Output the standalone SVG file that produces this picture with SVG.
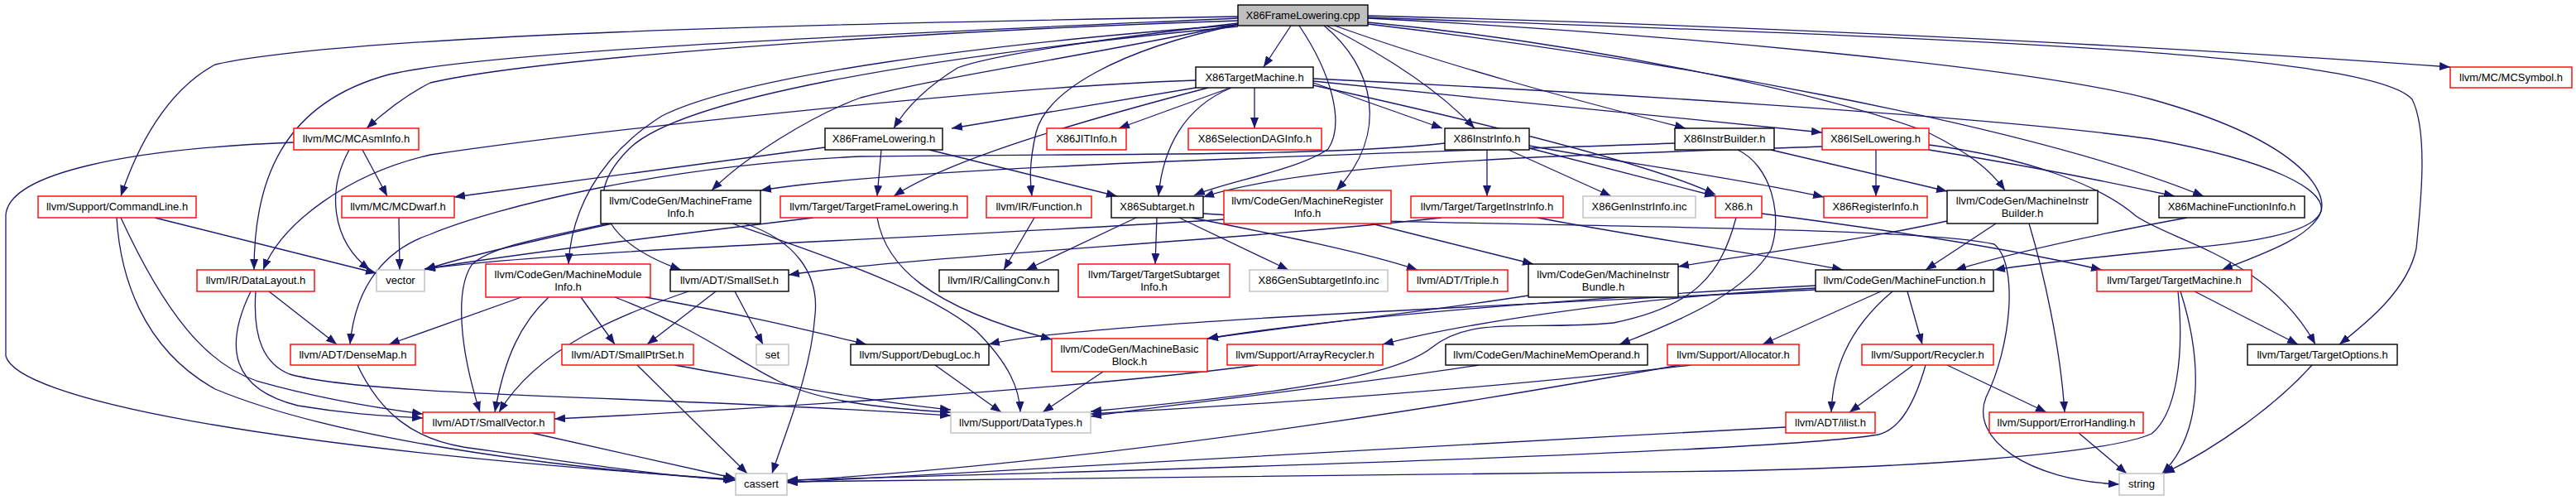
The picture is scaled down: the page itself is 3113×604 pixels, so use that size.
<svg xmlns="http://www.w3.org/2000/svg" width="3113" height="604" viewBox="0 0 3113 604">
<style>
.e{fill:none;stroke:#191970;stroke-width:1.3;marker-end:url(#a)}
rect{fill:#fff;stroke-width:1.4}
.r rect{stroke:#ff0000}
.k rect{stroke:#000}
.g rect{stroke:#bfbfbf}
text{font-family:"Liberation Sans",Arial,sans-serif;font-size:13px;text-anchor:middle;fill:#000}
</style>
<defs>
<marker id="a" viewBox="0 0 13 10" refX="13" refY="5" markerWidth="13" markerHeight="10" orient="auto" markerUnits="userSpaceOnUse">
<path d="M0,0L13,5L0,10z" fill="#191970"/>
</marker>
</defs>
<rect x="0" y="0" width="3113" height="604" style="fill:#fff;stroke:none"/>
<g id="edges">
<path class="e" d="M1560,31L1527,81"/>
<path class="e" d="M1653,19C2100,30 2600,55 2961,81"/>
<path class="e" d="M1496,25C1100,38 650,70 520,100C490,115 465,135 443,155"/>
<path class="e" d="M1496,20C1000,28 420,42 260,78C200,110 165,180 146,237"/>
<path class="e" d="M1496,22C1100,40 600,60 470,90C340,125 307,220 307,326"/>
<path class="e" d="M1496,28C1350,45 1200,65 1157,82C1120,105 1095,130 1080,155"/>
<path class="e" d="M1496,30C1200,52 900,90 800,140C720,190 690,260 687,319"/>
<path class="e" d="M1496,32C1100,70 820,120 760,180C690,250 750,300 823,326"/>
<path class="e" d="M1496,29C1300,70 1150,90 1040,118C980,140 900,190 860,230"/>
<path class="e" d="M1496,30C1350,60 1265,110 1252,160C1243,200 1245,220 1247,237"/>
<path class="e" d="M1570,31C1610,90 1625,150 1605,180C1570,205 1480,220 1443,236"/>
<path class="e" d="M1600,31C1660,80 1680,160 1615,230"/>
<path class="e" d="M1603,31C1680,70 1740,110 1782,155"/>
<path class="e" d="M1613,31C1750,80 1900,120 2037,155"/>
<path class="e" d="M1653,27C1900,50 2200,110 2330,160C2380,185 2405,205 2423,230"/>
<path class="e" d="M1653,29C2000,70 2450,150 2663,237"/>
<path class="e" d="M1653,22C2000,40 2450,80 2600,120C2780,170 2812,230 2805,255C2795,285 2700,295 2620,302C2540,310 2460,318 2410,326"/>
<path class="e" d="M1653,21C2300,45 2860,60 2915,120C2935,160 2925,250 2920,300C2910,350 2860,390 2827,416"/>
<path class="e" d="M1445,106L1150,155"/>
<path class="e" d="M1460,106C1330,140 1150,190 1080,237"/>
<path class="e" d="M1487,106L1352,155"/>
<path class="e" d="M1516,106L1516,155"/>
<path class="e" d="M1488,106C1430,130 1405,180 1400,237"/>
<path class="e" d="M1587,100L1743,155"/>
<path class="e" d="M1587,103C1800,150 2000,200 2073,235"/>
<path class="e" d="M1587,98C1800,120 2050,145 2202,160"/>
<path class="e" d="M1587,95C1900,110 2400,140 2600,168C2750,195 2810,230 2805,255C2795,285 2740,305 2685,326"/>
<path class="e" d="M1445,97C1200,105 700,160 520,187C420,210 340,270 318,326"/>
<path class="e" d="M997,178L549,238"/>
<path class="e" d="M1065,181L1060,237"/>
<path class="e" d="M1123,181L1350,237"/>
<path class="e" d="M438,181L468,237"/>
<path class="e" d="M422,181C395,230 400,290 447,326"/>
<path class="e" d="M355,172C150,180 10,210 7,260L7,430C20,480 300,540 887,579"/>
<path class="e" d="M187,263L455,330"/>
<path class="e" d="M146,263C200,380 250,440 310,460C380,480 450,492 511,500"/>
<path class="e" d="M141,263C145,330 170,420 260,470C380,520 600,560 889,580"/>
<path class="e" d="M325,352L407,416"/>
<path class="e" d="M303,352C270,420 280,470 360,490C420,500 460,502 511,505"/>
<path class="e" d="M309,352C305,410 320,440 350,452C450,480 800,478 1149,502"/>
<path class="e" d="M482,263L483,326"/>
<path class="e" d="M740,270C650,290 560,310 513,326"/>
<path class="e" d="M735,270C640,290 590,300 570,320C550,350 555,420 580,498"/>
<path class="e" d="M900,270C960,290 990,330 985,380C980,450 950,520 933,572"/>
<path class="e" d="M885,270C1000,310 1120,350 1180,400C1220,440 1232,470 1233,498"/>
<path class="e" d="M1060,263C1070,320 1120,370 1271,410"/>
<path class="e" d="M983,263C800,285 600,310 513,325"/>
<path class="e" d="M1250,263L1213,326"/>
<path class="e" d="M1373,263L1240,326"/>
<path class="e" d="M1398,263L1396,319"/>
<path class="e" d="M1425,263L1557,326"/>
<path class="e" d="M1440,263C1550,285 1650,305 1713,326"/>
<path class="e" d="M1454,258C1700,275 2300,270 2410,295C2440,320 2430,420 2400,480C2380,530 2450,580 2561,585"/>
<path class="e" d="M1797,181L1797,237"/>
<path class="e" d="M1823,181L1947,237"/>
<path class="e" d="M1848,176C1950,195 2100,215 2204,238"/>
<path class="e" d="M1848,179L2073,237"/>
<path class="e" d="M1746,173C1600,190 1300,185 1040,189C800,200 600,250 520,283C470,300 430,340 423,416"/>
<path class="e" d="M2024,173C1700,185 1100,200 919,230"/>
<path class="e" d="M2140,181L2353,231"/>
<path class="e" d="M2100,181C2140,200 2155,260 2140,302C2110,350 2050,380 1957,416"/>
<path class="e" d="M2267,181L2267,237"/>
<path class="e" d="M2202,177C2000,185 1600,190 1454,238"/>
<path class="e" d="M2331,181C2450,200 2550,220 2628,237"/>
<path class="e" d="M2331,175C2450,190 2540,225 2580,260C2620,290 2740,310 2798,416"/>
<path class="e" d="M1742,263C1500,290 1100,310 953,332"/>
<path class="e" d="M1858,263C2000,290 2150,310 2227,326"/>
<path class="e" d="M1657,270L1853,319"/>
<path class="e" d="M1479,265C1100,290 700,300 513,325"/>
<path class="e" d="M2353,267C2250,290 2100,310 2028,322"/>
<path class="e" d="M2412,270L2327,326"/>
<path class="e" d="M2452,270C2470,330 2490,420 2495,498"/>
<path class="e" d="M2643,263C2550,280 2450,300 2363,326"/>
<path class="e" d="M1847,357C1700,380 1550,395 1459,409"/>
<path class="e" d="M2273,352L2130,416"/>
<path class="e" d="M2305,352L2323,416"/>
<path class="e" d="M2287,352C2230,400 2215,450 2213,498"/>
<path class="e" d="M2194,348C1950,360 1750,395 1671,416"/>
<path class="e" d="M2194,350C1800,370 1300,390 1195,416"/>
<path class="e" d="M2194,345C1900,360 1600,385 1459,409"/>
<path class="e" d="M2652,352L2777,416"/>
<path class="e" d="M2632,352C2640,430 2630,500 2600,524C2540,550 2300,565 2080,569C1600,575 1200,578 951,582"/>
<path class="e" d="M2635,352C2660,430 2665,520 2613,572"/>
<path class="e" d="M2794,441C2750,490 2680,540 2615,572"/>
<path class="e" d="M2512,523L2570,572"/>
<path class="e" d="M2312,441L2235,498"/>
<path class="e" d="M2353,441L2473,498"/>
<path class="e" d="M2327,441C2310,500 2290,520 2270,525C2150,545 1500,565 951,580"/>
<path class="e" d="M2158,516C1700,540 1200,570 951,583"/>
<path class="e" d="M2043,441C1800,470 1500,490 1318,500"/>
<path class="e" d="M2030,441C1700,500 1300,560 951,581"/>
<path class="e" d="M1520,441C1300,470 900,495 670,506"/>
<path class="e" d="M1787,441C1600,470 1400,490 1318,503"/>
<path class="e" d="M1333,449L1260,498"/>
<path class="e" d="M1130,441L1210,498"/>
<path class="e" d="M2129,258C2300,280 2450,305 2540,326"/>
<path class="e" d="M2098,263C2080,330 2050,370 1950,390C1850,400 1780,380 1730,420C1680,460 1500,480 1318,497"/>
<path class="e" d="M630,359L470,416"/>
<path class="e" d="M663,359C630,390 610,430 598,498"/>
<path class="e" d="M702,359L743,416"/>
<path class="e" d="M743,359C850,400 880,430 940,460C1000,490 1100,495 1149,498"/>
<path class="e" d="M780,359C900,380 980,400 1047,416"/>
<path class="e" d="M865,352L782,416"/>
<path class="e" d="M888,352L922,416"/>
<path class="e" d="M832,352C750,380 650,420 603,498"/>
<path class="e" d="M770,441L903,572"/>
<path class="e" d="M815,441C950,465 1050,485 1149,495"/>
<path class="e" d="M432,441C460,500 500,530 560,540C700,560 800,575 889,580"/>
<path class="e" d="M643,523L889,578"/>
</g>
<g id="n0" class="k"><rect x="1496" y="6" width="157" height="25" style="fill:#bfbfbf"/><text x="1574.5" y="23">X86FrameLowering.cpp</text></g>
<g id="n1" class="k"><rect x="1445" y="81" width="142" height="25"/><text x="1516" y="98">X86TargetMachine.h</text></g>
<g id="n2" class="r"><rect x="2961" y="81" width="147" height="25"/><text x="3034.5" y="98">llvm/MC/MCSymbol.h</text></g>
<g id="n3" class="r"><rect x="355" y="155" width="151" height="26"/><text x="430.5" y="172">llvm/MC/MCAsmInfo.h</text></g>
<g id="n4" class="k"><rect x="997" y="155" width="142" height="26"/><text x="1068" y="172">X86FrameLowering.h</text></g>
<g id="n5" class="r"><rect x="1265" y="155" width="96" height="26"/><text x="1313" y="172">X86JITInfo.h</text></g>
<g id="n6" class="r"><rect x="1436" y="155" width="161" height="26"/><text x="1516.5" y="172">X86SelectionDAGInfo.h</text></g>
<g id="n7" class="k"><rect x="1746" y="155" width="102" height="26"/><text x="1797" y="172">X86InstrInfo.h</text></g>
<g id="n8" class="k"><rect x="2024" y="155" width="120" height="26"/><text x="2084" y="172">X86InstrBuilder.h</text></g>
<g id="n9" class="r"><rect x="2202" y="155" width="129" height="26"/><text x="2266.5" y="172">X86ISelLowering.h</text></g>
<g id="n10" class="r"><rect x="46" y="237" width="191" height="26"/><text x="141.5" y="254">llvm/Support/CommandLine.h</text></g>
<g id="n11" class="r"><rect x="413" y="237" width="136" height="26"/><text x="481" y="254">llvm/MC/MCDwarf.h</text></g>
<g id="n12" class="k"><rect x="726" y="230" width="193" height="40"/><text x="822.5" y="247">llvm/CodeGen/MachineFrame</text><text x="822.5" y="262">Info.h</text></g>
<g id="n13" class="r"><rect x="943" y="237" width="226" height="26"/><text x="1056" y="254">llvm/Target/TargetFrameLowering.h</text></g>
<g id="n14" class="r"><rect x="1192" y="237" width="127" height="26"/><text x="1255.5" y="254">llvm/IR/Function.h</text></g>
<g id="n15" class="k"><rect x="1343" y="237" width="111" height="26"/><text x="1398.5" y="254">X86Subtarget.h</text></g>
<g id="n16" class="r"><rect x="1479" y="230" width="202" height="40"/><text x="1580" y="247">llvm/CodeGen/MachineRegister</text><text x="1580" y="262">Info.h</text></g>
<g id="n17" class="r"><rect x="1705" y="237" width="184" height="26"/><text x="1797" y="254">llvm/Target/TargetInstrInfo.h</text></g>
<g id="n18" class="g"><rect x="1913" y="237" width="136" height="26"/><text x="1981" y="254">X86GenInstrInfo.inc</text></g>
<g id="n19" class="r"><rect x="2073" y="237" width="56" height="26"/><text x="2101" y="254">X86.h</text></g>
<g id="n20" class="r"><rect x="2204" y="237" width="125" height="26"/><text x="2266.5" y="254">X86RegisterInfo.h</text></g>
<g id="n21" class="k"><rect x="2353" y="230" width="182" height="40"/><text x="2444" y="247">llvm/CodeGen/MachineInstr</text><text x="2444" y="262">Builder.h</text></g>
<g id="n22" class="k"><rect x="2609" y="237" width="176" height="26"/><text x="2697" y="254">X86MachineFunctionInfo.h</text></g>
<g id="n23" class="r"><rect x="238" y="326" width="142" height="26"/><text x="309" y="343">llvm/IR/DataLayout.h</text></g>
<g id="n24" class="g"><rect x="455" y="326" width="58" height="26"/><text x="484" y="343">vector</text></g>
<g id="n25" class="r"><rect x="587" y="319" width="199" height="40"/><text x="686.5" y="336">llvm/CodeGen/MachineModule</text><text x="686.5" y="351">Info.h</text></g>
<g id="n26" class="k"><rect x="810" y="326" width="143" height="26"/><text x="881.5" y="343">llvm/ADT/SmallSet.h</text></g>
<g id="n27" class="k"><rect x="1135" y="326" width="144" height="26"/><text x="1207" y="343">llvm/IR/CallingConv.h</text></g>
<g id="n28" class="r"><rect x="1303" y="319" width="183" height="40"/><text x="1394.5" y="336">llvm/Target/TargetSubtarget</text><text x="1394.5" y="351">Info.h</text></g>
<g id="n29" class="g"><rect x="1510" y="326" width="167" height="26"/><text x="1593.5" y="343">X86GenSubtargetInfo.inc</text></g>
<g id="n30" class="r"><rect x="1701" y="326" width="121" height="26"/><text x="1761.5" y="343">llvm/ADT/Triple.h</text></g>
<g id="n31" class="k"><rect x="1847" y="319" width="181" height="40"/><text x="1937.5" y="336">llvm/CodeGen/MachineInstr</text><text x="1937.5" y="351">Bundle.h</text></g>
<g id="n32" class="k"><rect x="2194" y="326" width="215" height="26"/><text x="2301.5" y="343">llvm/CodeGen/MachineFunction.h</text></g>
<g id="n33" class="r"><rect x="2534" y="326" width="187" height="26"/><text x="2627.5" y="343">llvm/Target/TargetMachine.h</text></g>
<g id="n34" class="r"><rect x="351" y="416" width="151" height="25"/><text x="426.5" y="433">llvm/ADT/DenseMap.h</text></g>
<g id="n35" class="r"><rect x="679" y="416" width="159" height="25"/><text x="758.5" y="433">llvm/ADT/SmallPtrSet.h</text></g>
<g id="n36" class="g"><rect x="914" y="416" width="39" height="25"/><text x="933.5" y="433">set</text></g>
<g id="n37" class="k"><rect x="1028" y="416" width="167" height="25"/><text x="1111.5" y="433">llvm/Support/DebugLoc.h</text></g>
<g id="n38" class="r"><rect x="1271" y="409" width="188" height="40"/><text x="1365" y="426">llvm/CodeGen/MachineBasic</text><text x="1365" y="441">Block.h</text></g>
<g id="n39" class="r"><rect x="1483" y="416" width="188" height="25"/><text x="1577" y="433">llvm/Support/ArrayRecycler.h</text></g>
<g id="n40" class="k"><rect x="1747" y="416" width="244" height="25"/><text x="1869" y="433">llvm/CodeGen/MachineMemOperand.h</text></g>
<g id="n41" class="r"><rect x="2015" y="416" width="159" height="25"/><text x="2094.5" y="433">llvm/Support/Allocator.h</text></g>
<g id="n42" class="r"><rect x="2250" y="416" width="159" height="25"/><text x="2329.5" y="433">llvm/Support/Recycler.h</text></g>
<g id="n43" class="k"><rect x="2716" y="416" width="181" height="25"/><text x="2806.5" y="433">llvm/Target/TargetOptions.h</text></g>
<g id="n44" class="r"><rect x="511" y="498" width="159" height="25"/><text x="590.5" y="515">llvm/ADT/SmallVector.h</text></g>
<g id="n45" class="g"><rect x="1149" y="498" width="169" height="25"/><text x="1233.5" y="515">llvm/Support/DataTypes.h</text></g>
<g id="n46" class="r"><rect x="2158" y="498" width="108" height="25"/><text x="2212" y="515">llvm/ADT/ilist.h</text></g>
<g id="n47" class="r"><rect x="2404" y="498" width="186" height="25"/><text x="2497" y="515">llvm/Support/ErrorHandling.h</text></g>
<g id="n48" class="g"><rect x="889" y="572" width="62" height="26"/><text x="920" y="589">cassert</text></g>
<g id="n49" class="g"><rect x="2561" y="572" width="54" height="26"/><text x="2588" y="589">string</text></g>
</svg>
